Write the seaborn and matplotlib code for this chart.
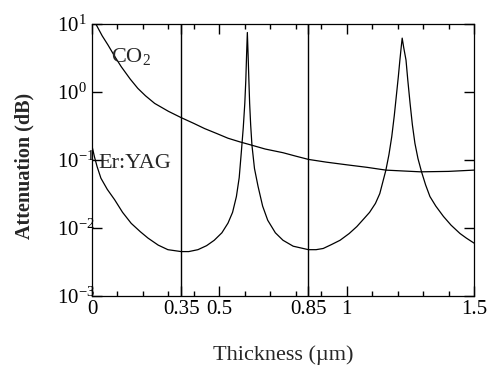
import numpy as np
import pandas as pd
import matplotlib
matplotlib.use("Agg")
import matplotlib.pyplot as plt
import seaborn as sns
from matplotlib.ticker import FixedLocator, FixedFormatter, NullLocator

# ---------------- data ----------------
co2_x = [0.000, 0.017, 0.040, 0.063, 0.090, 0.115, 0.150, 0.180, 0.210, 0.246,
         0.300, 0.350, 0.400, 0.442, 0.490, 0.534, 0.580, 0.625, 0.680, 0.750,
         0.800, 0.850, 0.920, 1.000, 1.080, 1.154, 1.220, 1.290, 1.400, 1.500]
co2_y = [12.0, 9.7, 6.7, 4.9, 3.3, 2.35, 1.55, 1.13, 0.88, 0.68,
         0.52, 0.42, 0.345, 0.29, 0.245, 0.209, 0.185, 0.166, 0.145, 0.128,
         0.114, 0.102, 0.093, 0.085, 0.078, 0.071, 0.069, 0.067, 0.068, 0.071]

er_x = [0.000, 0.010, 0.020, 0.035, 0.060, 0.089, 0.120, 0.154, 0.190, 0.220,
        0.260, 0.298, 0.350, 0.380, 0.416, 0.450, 0.480, 0.510, 0.534, 0.552,
        0.567, 0.578, 0.586, 0.594, 0.600, 0.604, 0.607, 0.610, 0.613, 0.616,
        0.619, 0.623, 0.628, 0.638, 0.652, 0.670, 0.690, 0.720, 0.750, 0.790,
        0.850, 0.880, 0.908, 0.940, 0.974, 1.010, 1.040, 1.070, 1.090, 1.113,
        1.130, 1.154, 1.166, 1.177, 1.187, 1.196, 1.203, 1.209, 1.214, 1.218,
        1.224, 1.233, 1.240, 1.249, 1.258, 1.268, 1.280, 1.294, 1.310, 1.327,
        1.350, 1.380, 1.410, 1.445, 1.470, 1.500]
er_y = [0.16, 0.11, 0.08, 0.054, 0.037, 0.026, 0.017, 0.0117, 0.0088, 0.0071,
        0.0056, 0.0048, 0.0045, 0.0045, 0.0048, 0.0055, 0.0066, 0.0085, 0.0118, 0.017,
        0.029, 0.055, 0.126, 0.30, 0.68, 1.5, 3.5, 7.5, 3.5, 1.5,
        0.68, 0.33, 0.166, 0.075, 0.041, 0.021, 0.013, 0.0085, 0.0066, 0.0054,
        0.0048, 0.0048, 0.0050, 0.0057, 0.0066, 0.0083, 0.0105, 0.014, 0.017, 0.023,
        0.032, 0.071, 0.12, 0.22, 0.45, 0.95, 1.7, 2.95, 4.5, 6.2,
        4.5, 2.95, 1.5, 0.68, 0.33, 0.176, 0.105, 0.067, 0.043, 0.029,
        0.021, 0.0148, 0.011, 0.0083, 0.0071, 0.006]

ref_lines = [0.35, 0.85]
xtick_vals = [0, 0.35, 0.5, 0.85, 1, 1.5]
xtick_labels = ["0", "0.35", "0.5", "0.85", "1", "1.5"]
xminor_vals = [0.1, 0.2, 0.3, 0.4, 0.6, 0.7, 0.8, 0.9, 1.1, 1.2, 1.3, 1.4]
ytick_vals = [1e-3, 1e-2, 1e-1, 1e0, 1e1]
ytick_labels = [r"$\mathregular{10^{-3}}$", r"$\mathregular{10^{-2}}$",
                r"$\mathregular{10^{-1}}$", r"$\mathregular{10^{0}}$",
                r"$\mathregular{10^{1}}$"]

# ---------------- style ----------------
sns.set_style("white")
plt.rcParams["font.family"] = ["Liberation Serif", "DejaVu Serif"]
plt.rcParams["mathtext.fontset"] = "custom"
plt.rcParams["mathtext.rm"] = "Liberation Serif"
plt.rcParams["mathtext.it"] = "Liberation Serif:italic"
plt.rcParams["mathtext.bf"] = "Liberation Serif:bold"
plt.rcParams["axes.axisbelow"] = False
plt.rcParams["xtick.direction"] = "in"
plt.rcParams["ytick.direction"] = "in"

fig = plt.figure(figsize=(4.87, 3.65), dpi=100)
ax = fig.add_axes([92 / 487, 1 - 296 / 365, (474 - 92) / 487, (296 - 24) / 365])

df_co2 = pd.DataFrame({"x": co2_x, "y": co2_y})
df_er = pd.DataFrame({"x": er_x, "y": er_y})
sns.lineplot(data=df_co2, x="x", y="y", ax=ax, color="black", lw=0.9,
             sort=False, estimator=None)
sns.lineplot(data=df_er, x="x", y="y", ax=ax, color="black", lw=0.9,
             sort=False, estimator=None)
for v in ref_lines:
    ax.axvline(v, color="black", lw=1.0)

ax.set_yscale("log")
ax.set_xlim(0, 1.5)
ax.set_ylim(1e-3, 1e1)

ax.xaxis.set_major_locator(FixedLocator(xtick_vals))
ax.xaxis.set_major_formatter(FixedFormatter(xtick_labels))
ax.xaxis.set_minor_locator(FixedLocator(xminor_vals))
ax.yaxis.set_major_locator(FixedLocator(ytick_vals))
ax.yaxis.set_major_formatter(FixedFormatter(ytick_labels))
ax.yaxis.set_minor_locator(NullLocator())

ax.tick_params(axis="both", which="both", direction="in", top=True, right=True,
               bottom=True, left=True, color="black", labelcolor="black",
               width=1.0)
ax.tick_params(axis="both", which="major", length=7, labelsize=15)
ax.tick_params(axis="x", which="minor", length=3.5)
ax.tick_params(axis="x", which="major", pad=3)
ax.tick_params(axis="y", which="major", pad=25)
for lab in ax.get_yticklabels():
    lab.set_horizontalalignment("left")

for s in ax.spines.values():
    s.set_linewidth(0.9)
    s.set_color("black")

ax.set_xlabel("")
ax.set_ylabel("")

ax.text(0.075, 2.75, r"CO$_\mathregular{2}$", fontsize=16, va="baseline", ha="left")
ax.text(0.024, 0.076, "Er:YAG", fontsize=16, va="baseline", ha="left")

fig.text(24 / 487, 1 - 166 / 365, "Attenuation (dB)", rotation=90, fontsize=14.5,
         fontweight="bold", ha="center", va="center")
fig.text(283 / 487, 5 / 365, "Thickness (\u00b5m)", fontsize=16, ha="center",
         va="baseline")

fig.savefig("out.png", dpi=100)
